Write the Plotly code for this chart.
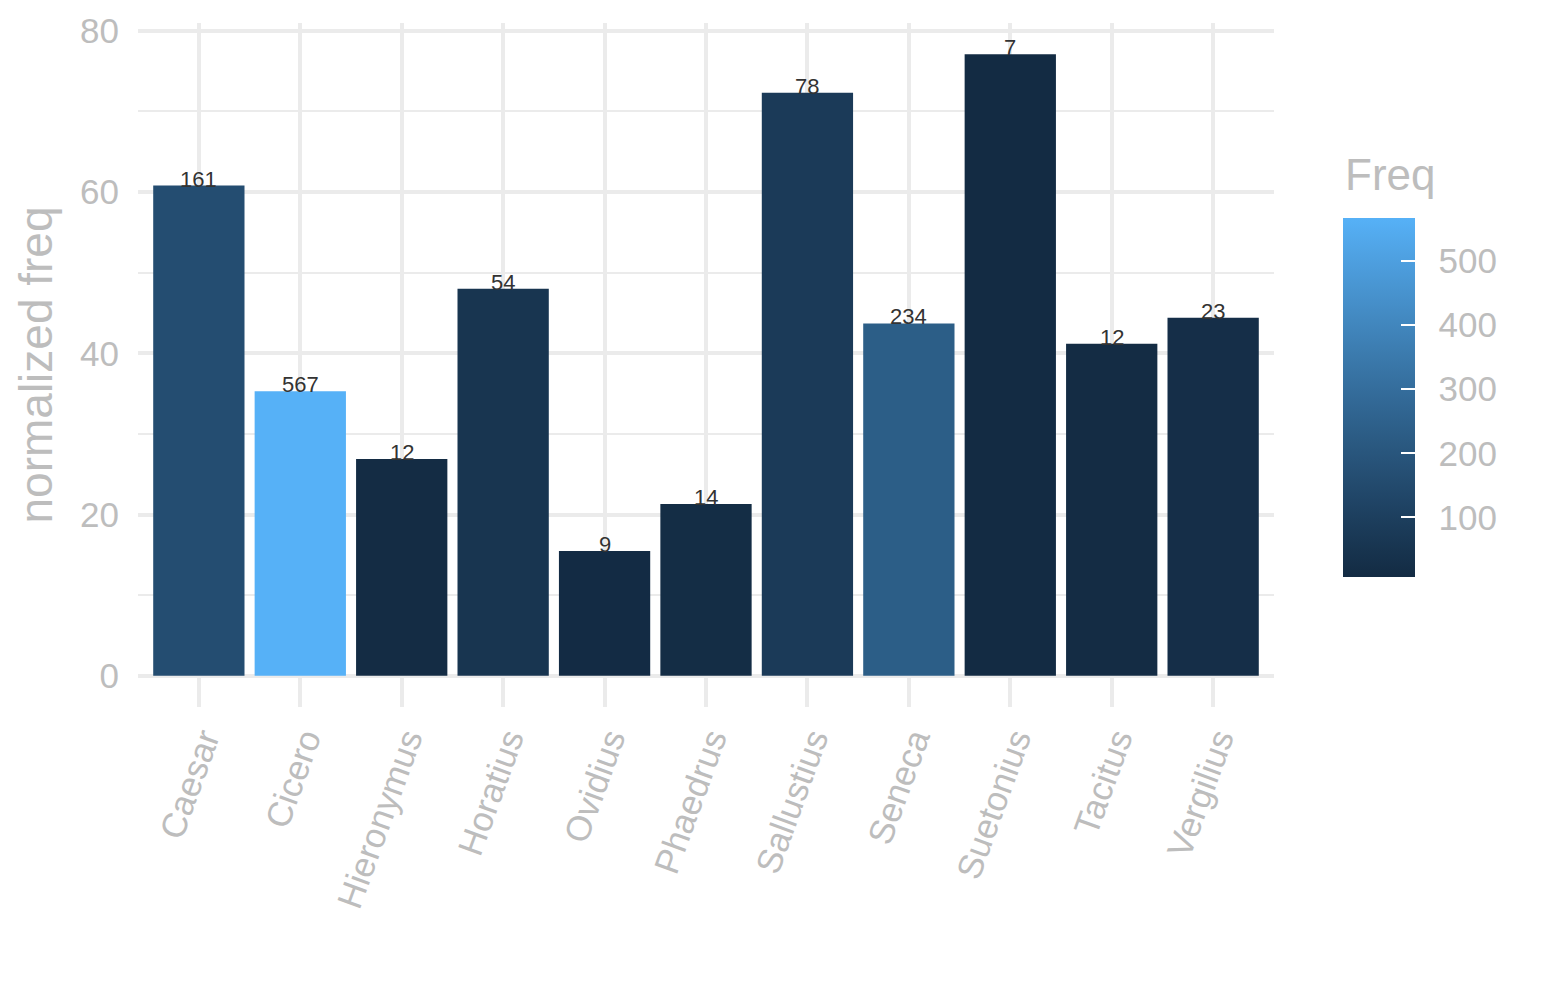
import plotly.graph_objects as go

# data
authors = ["Caesar", "Cicero", "Hieronymus", "Horatius", "Ovidius", "Phaedrus",
           "Sallustius", "Seneca", "Suetonius", "Tacitus", "Vergilius"]
norm_freq = [60.8, 35.3, 26.9, 48.0, 15.5, 21.3, 72.3, 43.7, 77.1, 41.2, 44.4]
freq = [161, 567, 12, 54, 9, 14, 78, 234, 7, 12, 23]
y_ticks = [0, 20, 40, 60, 80]
cbar_ticks = [100, 200, 300, 400, 500]

LOW, HIGH = "#132B43", "#56B1F7"
GRID = "#EBEBEB"
TICK_GREY = "#BDBDBD"
FONT = "Liberation Sans, Arial, sans-serif"


# ggplot-like gradient: interpolate in CIELAB
def _lin(c):
    c = c / 255
    return c / 12.92 if c <= 0.04045 else ((c + 0.055) / 1.055) ** 2.4


def _gam(c):
    c = 12.92 * c if c <= 0.0031308 else 1.055 * c ** (1 / 2.4) - 0.055
    return max(0, min(255, round(c * 255)))


def hex_to_lab(h):
    r, g, b = (_lin(int(h[i:i + 2], 16)) for i in (1, 3, 5))
    x = (0.4124 * r + 0.3576 * g + 0.1805 * b) / 0.95047
    y = 0.2126 * r + 0.7152 * g + 0.0722 * b
    z = (0.0193 * r + 0.1192 * g + 0.9505 * b) / 1.08883
    f = lambda t: t ** (1 / 3) if t > 0.008856 else 7.787 * t + 16 / 116
    fx, fy, fz = f(x), f(y), f(z)
    return 116 * fy - 16, 500 * (fx - fy), 200 * (fy - fz)


def lab_to_hex(L, a, b):
    fy = (L + 16) / 116
    fx, fz = fy + a / 500, fy - b / 200
    finv = lambda t: t ** 3 if t ** 3 > 0.008856 else (t - 16 / 116) / 7.787
    x, y, z = finv(fx) * 0.95047, finv(fy), finv(fz) * 1.08883
    r = 3.2406 * x - 1.5372 * y - 0.4986 * z
    g = -0.9689 * x + 1.8758 * y + 0.0415 * z
    bl = 0.0557 * x - 0.2040 * y + 1.0570 * z
    return "#%02x%02x%02x" % (_gam(r), _gam(g), _gam(bl))


lo, hi = hex_to_lab(LOW), hex_to_lab(HIGH)
colorscale = []
for i in range(11):
    t = i / 10
    colorscale.append([t, lab_to_hex(*[lo[k] + (hi[k] - lo[k]) * t for k in range(3)])])

# shared colorbar geometry
cbar_geom = dict(
    outlinewidth=0,
    thickness=72,
    len=359,
    lenmode="pixels",
    x=1.0607,
    xanchor="left",
    xpad=0,
    y=0.19,
    yanchor="bottom",
    ypad=0,
    tickvals=cbar_ticks,
)

fig = go.Figure()

# bars, with the labelled colorbar (ticks invisible, only used to push labels out)
fig.add_trace(go.Bar(
    x=authors,
    y=norm_freq,
    width=0.9,
    marker=dict(
        color=freq,
        colorscale=colorscale,
        cmin=min(freq),
        cmax=max(freq),
        line=dict(width=0),
        showscale=True,
        colorbar=dict(
            ticks="outside",
            ticklen=17,
            tickcolor="white",
            tickfont=dict(size=35, color=TICK_GREY, family=FONT),
            **cbar_geom,
        ),
    ),
    hovertemplate="%{x}<br>%{y}<extra></extra>",
))

# invisible copy only to draw the white inside ticks on the colorbar
fig.add_trace(go.Scatter(
    x=authors,
    y=norm_freq,
    mode="markers",
    marker=dict(
        color=freq,
        colorscale=colorscale,
        cmin=min(freq),
        cmax=max(freq),
        opacity=0,
        size=1,
        showscale=True,
        colorbar=dict(
            ticks="inside",
            ticklen=14,
            tickwidth=1.5,
            tickcolor="white",
            showticklabels=False,
            **cbar_geom,
        ),
    ),
    hoverinfo="skip",
    showlegend=False,
))

# legend title
fig.add_annotation(
    x=1.0607, y=0.779, xref="paper", yref="paper",
    xanchor="left", yanchor="middle",
    text="Freq", showarrow=False,
    font=dict(size=44, color=TICK_GREY, family=FONT),
)

# count labels sitting on the bar tops
for a, v, f in zip(authors, norm_freq, freq):
    fig.add_annotation(
        x=a, y=v, text=str(f),
        showarrow=False,
        yanchor="bottom",
        yshift=-8,
        font=dict(size=22, color="#333333", family=FONT),
    )

fig.update_layout(
    width=1529,
    height=984,
    margin=dict(l=130, r=263, t=15, b=285, autoexpand=False),
    plot_bgcolor="white",
    paper_bgcolor="white",
    showlegend=False,
    font=dict(family=FONT),
)

fig.update_xaxes(
    range=[-0.6, 10.6],
    tickangle=-70,
    tickfont=dict(size=35, color=TICK_GREY, family=FONT),
    showgrid=True,
    gridcolor=GRID,
    gridwidth=3.5,
    ticks="",
    ticklabelstandoff=4,
    ticklabelshift=5,
    showline=False,
    zeroline=False,
    automargin=False,
)

fig.update_yaxes(
    range=[-3.86, 80.96],
    tickvals=y_ticks,
    tickfont=dict(size=35, color=TICK_GREY, family=FONT),
    title=dict(text="normalized freq", font=dict(size=46, color=TICK_GREY, family=FONT), standoff=12),
    showgrid=True,
    gridcolor=GRID,
    gridwidth=3.5,
    minor=dict(tickvals=[10, 30, 50, 70], showgrid=True, gridcolor=GRID, gridwidth=2),
    ticks="",
    ticklabelstandoff=18,
    showline=False,
    zeroline=False,
    automargin=False,
)

fig.write_html("out.html")
